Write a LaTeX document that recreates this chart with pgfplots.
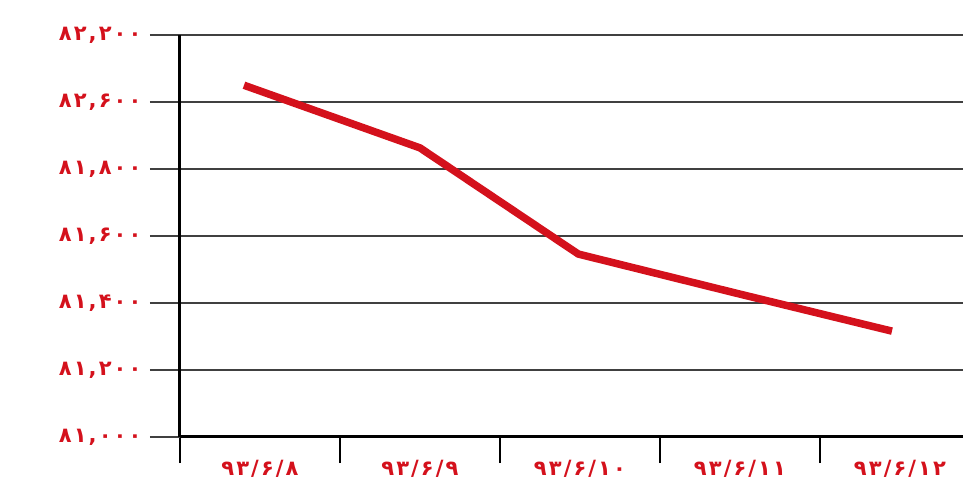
\documentclass[border=0pt]{standalone}
\usepackage{fontspec}
\usepackage{pgfplots}
\pgfplotsset{compat=1.18}
\usetikzlibrary{calc}
\newfontfamily\fa[LetterSpace=10]{DejaVu Sans}
\definecolor{chartred}{HTML}{D4111C}

\begin{document}
\begin{tikzpicture}
\begin{axis}[
  scale only axis,
  width=783pt,
  height=402pt,
  xmin=-0.5, xmax=4.394,
  ymin=81000, ymax=82200,
  scaled y ticks=false,
  axis x line*=bottom,
  axis y line*=left,
  axis line style={black, line width=3pt},
  xtick={0,1,2,3,4},
  xticklabels={۹۳/۶/۸, ۹۳/۶/۹, ۹۳/۶/۱۰, ۹۳/۶/۱۱, ۹۳/۶/۱۲},
  minor xtick={-0.5,0.5,1.5,2.5,3.5},
  major x tick style={draw=none},
  minor x tick style={black, line width=2pt},
  minor tick length=26pt,
  ytick={81000,81200,81400,81600,81800,82000,82200},
  yticklabels={{۸۱,۰۰۰},{۸۱,۲۰۰},{۸۱,۴۰۰},{۸۱,۶۰۰},{۸۱,۸۰۰},{۸۲,۶۰۰},{۸۲,۲۰۰}},
  major y tick style={black!75, line width=2.5pt},
  major tick length=30pt,
  tick align=outside,
  ymajorgrids,
  grid style={black!75, line width=2.5pt},
  xticklabel style={font=\fa\bfseries\fontsize{21}{21}\selectfont, text=chartred, yshift=10pt},
  yticklabel style={font=\fa\bfseries\fontsize{21}{21}\selectfont, text=chartred, xshift=-5pt},
]
\addplot[color=chartred, line width=7.5pt, line join=round] coordinates {
  (-0.1, 82050)
  (1.0, 81863)
  (1.99, 81546)
  (2.97, 81430)
  (3.95, 81316)
};
\coordinate (sw) at (rel axis cs:0,0);
\coordinate (ne) at (rel axis cs:1,1);
\end{axis}
\pgfresetboundingbox
\path ($(sw)+(-180pt,-47pt)$) rectangle ($(ne)+(0pt,35pt)$);
\end{tikzpicture}
\end{document}
